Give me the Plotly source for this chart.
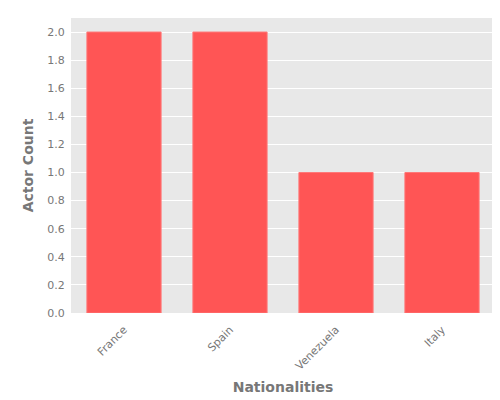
import plotly.graph_objects as go

nationalities = ["France", "Spain", "Venezuela", "Italy"]
actor_counts = [2, 2, 1, 1]

fig = go.Figure(go.Bar(x=nationalities, y=actor_counts, marker=dict(color="#FF5555", line=dict(color="#FF7777", width=1))))
fig.update_layout(
    width=500, height=400,
    margin=dict(l=63, r=13, t=10, b=95),
    paper_bgcolor="white", plot_bgcolor="#E8E8E8",
    font=dict(family="DejaVu Sans", size=11, color="#777777"),
    bargap=0.3, showlegend=False,
)
fig.update_xaxes(title=dict(text="<b>Nationalities</b>", font=dict(size=14, color="#777777"), standoff=10),
                 tickangle=-45, showgrid=False, ticks="outside", ticklen=5, tickcolor="rgba(0,0,0,0)", automargin=False)
fig.update_yaxes(title=dict(text="<b>Actor Count</b>", font=dict(size=14, color="#777777"), standoff=10),
                 range=[0, 2.1], dtick=0.2, tickformat=".1f", gridcolor="white", zeroline=False,
                 ticks="outside", ticklen=3, tickcolor="rgba(0,0,0,0)", automargin=False)
fig.write_html("out.html")
